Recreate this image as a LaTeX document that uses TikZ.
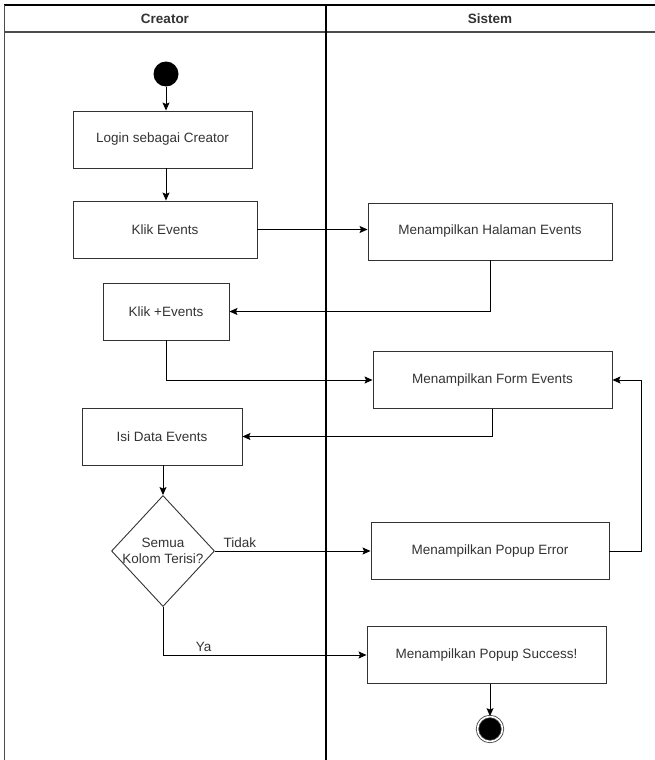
\documentclass[tikz,border=0pt]{standalone}
\usepackage{fontspec}
\setmainfont{Liberation Sans}
\usetikzlibrary{shapes.geometric, arrows.meta}

\begin{document}
\begin{tikzpicture}[x=1pt, y=-1pt, >={Stealth[length=8pt, width=7pt, inset=1.5pt]}, font=\fontsize{13.5}{16}\selectfont,
  act/.style={draw=black!80, line width=0.9pt, text=black!80, minimum height=57pt, inner sep=2pt},
  startnode/.style={circle, fill=black, minimum size=25pt, inner sep=0pt},
  endnode/.style={circle, draw=black!75, line width=0.8pt, fill=black, double=white, double distance=1.6pt, minimum size=25pt, inner sep=0pt},
  decision/.style={diamond, draw=black!80, line width=0.9pt, minimum width=103pt, minimum height=111pt, inner sep=0pt},
  lane/.style={line width=1.3pt, draw=black!70},
  flow/.style={->, line width=0.9pt},
  vh/.style={to path={|- (\tikztotarget) \tikztonodes}},
  loopback/.style={to path={-- ++(32,0) |- (\tikztotarget) \tikztonodes}}]
  \useasboundingbox (0,0) rectangle (655,760);

  % swimlanes
  \draw[lane, draw=black] (4,5) -- (655,5);
  \draw[lane] (4,32) -- (655,32);
  \draw[lane] (4.5,5) -- (4.5,760);
  \draw[lane, draw=black] (326,5) -- (326,760);
  \node[font=\fontsize{13.5}{16}\selectfont\bfseries, text=black!80] (creator) at (165,18.5) {Creator};
  \node[font=\fontsize{13.5}{16}\selectfont\bfseries, text=black!80] (sistem) at (490,18.5) {Sistem};

  \node[startnode] (start) at (166,74) {};
  \node[act, minimum width=179pt] (login) at (162.5,139.5) {Login sebagai Creator};
  \node[act, minimum width=184pt] (klik) at (165,229.5) {Klik Events};
  \node[act, minimum width=244pt] (halaman) at (490,231.5) {Menampilkan Halaman Events};
  \node[act, minimum width=126pt] (plus) at (166,311.5) {Klik +Events};
  \node[act, minimum width=239pt] (form) at (492.5,380) {Menampilkan Form Events};
  \node[act, minimum width=160pt] (isi) at (162,436.5) {Isi Data Events};
  \node[decision] (cek) at (163,551) {};
  \node[text=black!80, align=center, font=\fontsize{13.5}{16.5}\selectfont] (cektext) at (cek) {Semua\\Kolom Terisi?};
  \node[act, minimum width=238pt] (error) at (490,551) {Menampilkan Popup Error};
  \node[act, minimum width=239pt] (success) at (486.5,655) {Menampilkan Popup Success!};
  \node[endnode] (finish) at (490,729) {};

  \path[flow]
    (start) edge (start |- login.north)
    (start |- login.south) edge (start |- klik.north)
    (klik) edge (klik -| halaman.west)
    (halaman.south) edge[vh] (plus.east)
    (plus.south) edge[vh] (form.west)
    (form.south) edge[vh] (isi.east)
    (cek |- isi.south) edge (cek)
    (cek.east) edge node[pos=0.16, above, text=black!80] {Tidak} (error.west)
    (error.east) edge[loopback] (form.east)
    (cek.south) edge[vh] node[pos=0.6, above, text=black!80] {Ya} (success.west)
    (finish |- success.south) edge (finish);
\end{tikzpicture}
\end{document}
